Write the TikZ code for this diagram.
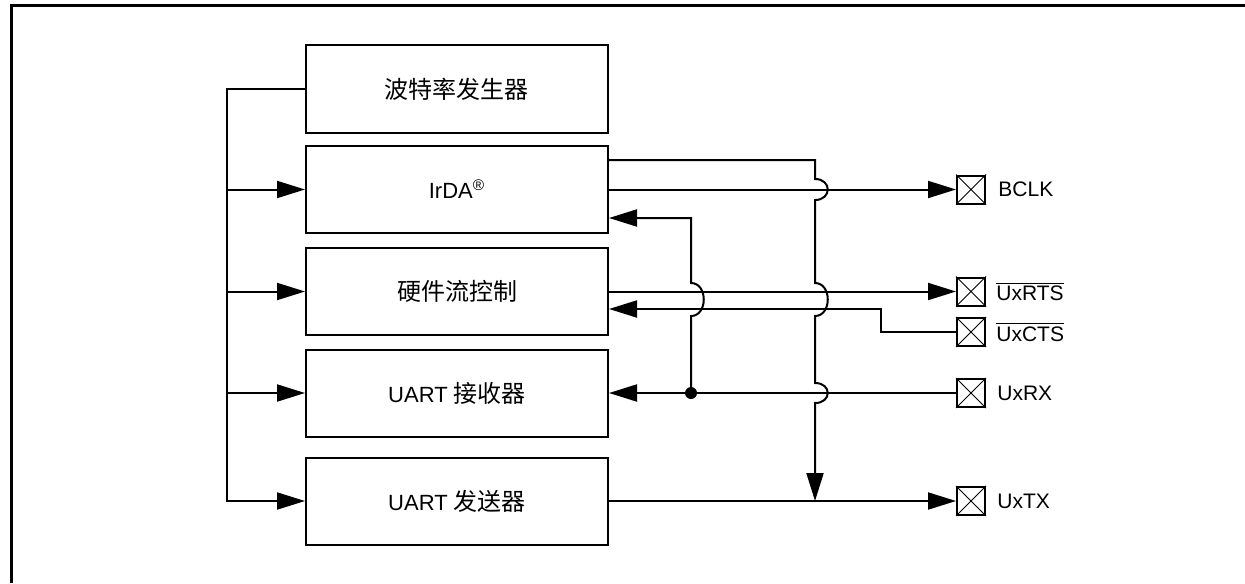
\documentclass[tikz,border=0pt]{standalone}
\usepackage{fontspec}
\setmainfont{Liberation Sans}
\newfontfamily\cjk{Noto Sans CJK SC}
\usetikzlibrary{arrows.meta,calc}
\newcommand\zh[1]{{\cjk\fontsize{12pt}{14pt}\selectfont #1}}
\begin{document}
\begin{tikzpicture}[x=0.5pt,y=-0.5pt,
 blk/.style={draw,line width=1pt,minimum width=151pt,minimum height=43.5pt,inner sep=0pt,font=\fontsize{11pt}{13pt}\selectfont},
 pin/.style={draw,line width=1pt,minimum size=14pt,inner sep=0pt},
 lbl/.style={anchor=west,inner sep=0pt,font=\fontsize{10.5pt}{12pt}\selectfont},
 wire/.style={line width=1pt},
 arr/.style={wire,-{Triangle[length=14pt,width=8.5pt]}},
 jdot/.style={circle,fill,inner sep=0pt,minimum size=6pt},
 frame/.style={line width=1.5pt}]
\useasboundingbox (0,0) rectangle (1245,583);
\draw[frame] (11,583) -- (11,6) -- (1245,6);
% blocks
\node[blk] (baud) at (456.5,89) {\zh{波特率发生器}};
\node[blk] (irda) at (457,189.5) {IrDA\textsuperscript{®}};
\node[blk] (flow) at (457,291.5) {\zh{硬件流控制}};
\node[blk] (rx) at (457,393) {UART \zh{接收器}};
\node[blk] (tx) at (457,501) {UART \zh{发送器}};
% pins
\node[pin] (bclk) at (971,189.5) {};
\node[pin] (rts) at (971,291.5) {};
\node[pin] (cts) at (971,332) {};
\node[pin] (uxrx) at (971,393) {};
\node[pin] (uxtx) at (971,501) {};
\foreach \p in {bclk,rts,cts,uxrx,uxtx}
  \draw[line width=0.5pt] (\p.north west) -- (\p.south east) (\p.north east) -- (\p.south west);
\node[lbl] (lbclk) at (998,189.5) {BCLK};
\node[lbl] (lrts) at (996,291.5) {$\overline{\hbox{UxRTS}}$};
\node[lbl] (lcts) at (996,332) {$\overline{\hbox{UxCTS}}$};
\node[lbl] (lrx) at (997,393) {UxRX};
\node[lbl] (ltx) at (997,501) {UxTX};
% left bus
\coordinate (bt) at (227,89);
\coordinate (bb) at (227,501);
\draw[arr] (baud.west) -- (bt) -- (bb) -- (tx.west);
\foreach \n in {irda,flow,rx} \draw[arr] (bt |- \n.west) -- (\n.west);
% outputs
\draw[arr] (irda.east) -- (bclk.west);
\draw[arr] (flow.east) -- (rts.west);
\draw[arr] (tx.east) -- (uxtx.west);
\draw[arr] (uxrx.west) -- (rx.east);
% CTS
\coordinate (ctsin) at ($(flow.east)+(0,17.5)$);
\coordinate (ctsk) at (881,309);
\draw[arr] (cts.west) -| (ctsk) -- (ctsin);
% RX junction to IrDA
\coordinate (j) at (691,393);
\coordinate (irdain) at ($(irda.east)+(0,28.5)$);
\draw[arr] (j) -- (691,316) .. controls (708,316) and (708,283) .. (691,283) |- (irdain);
\node[jdot] (jd) at (j) {};
% IrDA to TX
\coordinate (irdaout) at ($(irda.east)+(0,-29.5)$);
\coordinate (txj) at (815,501);
\draw[arr] (irdaout) -| (815,179) .. controls (832,179) and (832,200) .. (815,200)
  -- (815,283) .. controls (832,283) and (832,316) .. (815,316)
  -- (815,383) .. controls (832,383) and (832,403) .. (815,403) -- (txj);
\end{tikzpicture}
\end{document}
